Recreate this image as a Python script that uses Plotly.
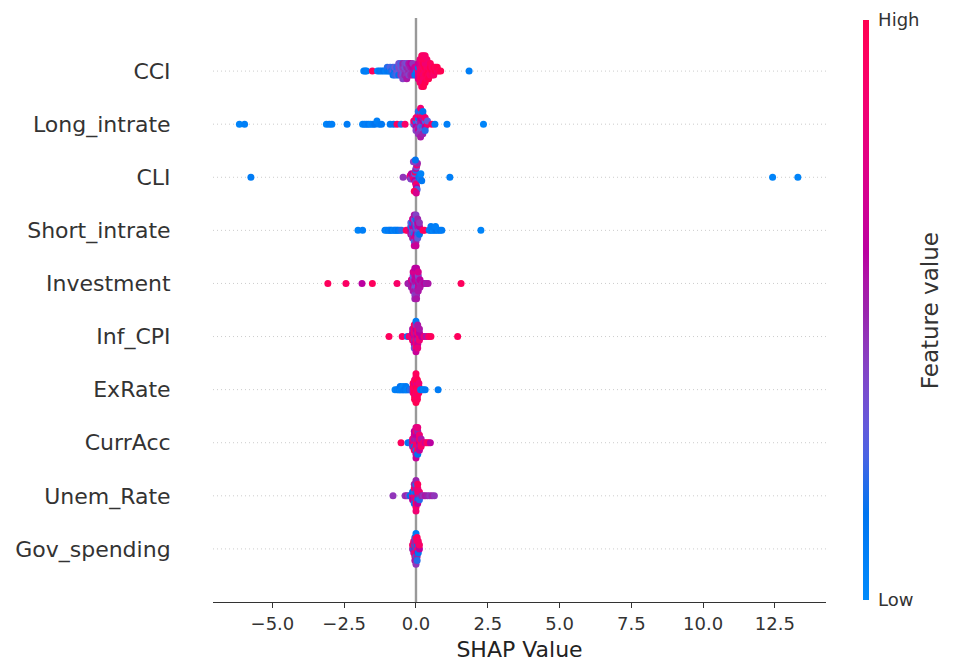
import numpy as np
import plotly.graph_objects as go

# ---------------- data ----------------
features = ["CCI", "Long_intrate", "CLI", "Short_intrate", "Investment",
            "Inf_CPI", "ExRate", "CurrAcc", "Unem_Rate", "Gov_spending"]
x_ticks = [-5.0, -2.5, 0.0, 2.5, 5.0, 7.5, 10.0, 12.5]
x_range = [-7.07, 14.28]
cbar_ticks = ["Low", "High"]

cci_shap = [
    -1.82, -1.77, -1.72, -1.52, -1.34, -1.27, -1.20, -1.13, -1.06, -1.00,
    -1.00, -0.94, -0.90, -0.90, -0.86, -0.80, -0.80, -0.80,
    -0.74, -0.74, -0.74, -0.67, -0.67, -0.67, -0.60, -0.60, -0.60, -0.60,
    -0.53, -0.53, -0.53, -0.53, -0.46, -0.46, -0.46, -0.46, -0.46,
    -0.39, -0.39, -0.39, -0.39, -0.32, -0.32, -0.32, -0.32, -0.32,
    -0.25, -0.25, -0.25, -0.25, -0.18, -0.18, -0.18, -0.18,
    -0.11, -0.11, -0.11, -0.11, -0.04, -0.04, -0.04,
    0.02, 0.02, 0.02, 0.08, 0.08, 0.08, 0.08, 0.08,
    0.14, 0.14, 0.14, 0.14, 0.14, 0.14, 0.14,
    0.20, 0.20, 0.20, 0.20, 0.20, 0.20, 0.20, 0.20, 0.20,
    0.26, 0.26, 0.26, 0.26, 0.26, 0.26, 0.26, 0.26, 0.26,
    0.32, 0.32, 0.32, 0.32, 0.32, 0.32, 0.32, 0.32,
    0.38, 0.38, 0.38, 0.38, 0.38, 0.38,
    0.44, 0.44, 0.44, 0.44, 0.44,
    0.50, 0.50, 0.50, 0.50,
    0.56, 0.56, 0.56,
    0.62, 0.62, 0.62,
    0.68, 0.68, 0.74, 0.74, 0.80, 0.86, 1.85]
cci_val = [
    0.05, 0.10, 0.08, 0.95, 0.05, 0.12, 0.10, 0.15, 0.08, 0.12,
    0.20, 0.15, 0.10, 0.25, 0.18, 0.30, 0.22, 0.15,
    0.15, 0.30, 0.20, 0.35, 0.20, 0.25, 0.30, 0.40, 0.15, 0.35,
    0.40, 0.30, 0.45, 0.25, 0.35, 0.45, 0.30, 0.50, 0.40,
    0.45, 0.35, 0.50, 0.40, 0.40, 0.50, 0.45, 0.35, 0.55,
    0.50, 0.45, 0.40, 0.55, 0.45, 0.55, 0.50, 0.60,
    0.50, 0.60, 0.55, 0.45, 0.55, 0.65, 0.15,
    0.10, 0.70, 0.15, 0.80, 0.15, 0.75, 0.65, 0.70,
    0.85, 0.80, 0.90, 0.70, 0.95, 0.80, 0.90,
    0.90, 0.85, 0.95, 0.80, 1.00, 0.90, 0.85, 0.95, 0.90,
    0.95, 0.90, 0.85, 1.00, 0.90, 0.95, 0.85, 0.90, 1.00,
    0.90, 1.00, 0.95, 0.85, 0.90, 0.95, 1.00, 0.90,
    0.95, 0.90, 1.00, 0.85, 0.95, 0.90,
    1.00, 0.90, 0.95, 0.85, 1.00,
    0.95, 1.00, 0.90, 0.95,
    1.00, 0.90, 0.95,
    0.95, 1.00, 0.90,
    1.00, 0.95, 0.90, 1.00, 0.95, 1.00, 0.08]

long_shap = [
    -6.15, -5.97, -3.12, -3.02, -2.93, -2.40, -1.86, -1.79, -1.72, -1.65,
    -1.58, -1.50, -1.43, -1.36, -1.28, -1.20, -0.90, -0.78, -0.66, -0.52, -0.38,
    -0.08, -0.08, 0.00, 0.00, 0.00, 0.00, 0.00,
    0.08, 0.08, 0.08, 0.08, 0.08, 0.08, 0.08, 0.08,
    0.16, 0.16, 0.16, 0.16, 0.16, 0.16, 0.16, 0.16, 0.16, 0.16,
    0.24, 0.24, 0.24, 0.24, 0.24, 0.24, 0.24, 0.24,
    0.32, 0.32, 0.32, 0.32, 0.32, 0.40, 0.40,
    0.55, 0.66, 1.08, 2.35]
long_val = [
    0.05, 0.08, 0.05, 0.10, 0.08, 0.10, 0.05, 0.10, 0.08, 0.12,
    0.05, 0.10, 0.15, 0.08, 0.10, 0.12, 0.12, 0.15, 0.95, 0.20, 0.90,
    0.30, 0.85, 0.55, 0.20, 0.60, 0.90, 0.40,
    0.60, 0.30, 0.50, 0.15, 0.65, 0.85, 0.45, 0.20,
    0.50, 0.55, 0.25, 0.60, 0.35, 0.90, 0.45, 0.20, 0.55, 0.85,
    0.40, 0.60, 0.20, 0.55, 0.30, 0.90, 0.50, 0.15,
    0.55, 0.25, 0.60, 0.85, 0.20, 0.90, 0.30,
    0.92, 0.10, 0.08, 0.05]

cli_shap = [
    -5.75, -0.45, -0.22, -0.20, -0.18, -0.16,
    -0.10, -0.08, -0.07, -0.05, -0.04, -0.03, -0.02, -0.01, 0.00, 0.00,
    0.01, 0.02, 0.02, 0.03, 0.04, 0.05, -0.06, -0.09, 0.01, -0.02,
    0.10, 0.13, 0.15, 0.17, 0.20, 1.18, 12.42, 13.30]
cli_val = [
    0.10, 0.45, 0.50, 0.85, 0.40, 0.60,
    0.90, 0.50, 0.85, 0.30, 0.60, 0.95, 0.45, 0.20, 0.80, 0.55,
    0.90, 0.35, 0.60, 0.85, 0.25, 0.50, 0.95, 0.40, 0.70, 0.15,
    0.15, 0.10, 0.20, 0.05, 0.12, 0.08, 0.05, 0.05]

short_shap = [
    -2.02, -1.86, -1.08, -1.02, -0.96, -0.92, -0.88, -0.84, -0.78, -0.74,
    -0.70, -0.66, -0.62, -0.56, -0.50, -0.34, -0.28,
    -0.18, -0.18, -0.18, -0.18, -0.12, -0.12, -0.12, -0.12, -0.12, -0.12,
    -0.06, -0.06, -0.06, -0.06, -0.06, -0.06, -0.06, -0.06, -0.06,
    0.00, 0.00, 0.00, 0.00, 0.00, 0.00, 0.00, 0.00, 0.00,
    0.06, 0.06, 0.06, 0.06, 0.06, 0.06, 0.12, 0.12, 0.12, 0.12,
    0.24, 0.30, 0.46, 0.50, 0.56, 0.60, 0.66, 0.72, 0.78, 0.84, 0.90, 2.26,
    0.52, 0.68]
short_val = [
    0.05, 0.08, 0.10, 0.05, 0.12, 0.08, 0.10, 0.15, 0.05, 0.10,
    0.12, 0.08, 0.15, 0.10, 0.20, 0.95, 0.90,
    0.60, 0.20, 0.55, 0.30, 0.25, 0.65, 0.40, 0.15, 0.50, 0.70,
    0.30, 0.60, 0.20, 0.50, 0.70, 0.35, 0.25, 0.55, 0.65,
    0.45, 0.20, 0.60, 0.30, 0.70, 0.15, 0.50, 0.40, 0.65,
    0.35, 0.55, 0.20, 0.60, 0.30, 0.50, 0.25, 0.60, 0.15, 0.45,
    0.92, 0.95, 0.10, 0.08, 0.12, 0.05, 0.10, 0.15, 0.08, 0.12, 0.10, 0.05,
    0.10, 0.08]

inv_shap = [
    -3.07, -2.44, -1.88, -1.52, -0.66, -0.28, -0.24,
    -0.16, -0.16, -0.16, -0.10, -0.10, -0.10, -0.10, -0.10, -0.10,
    -0.04, -0.04, -0.04, -0.04, -0.04, -0.04, -0.04, -0.04, -0.04,
    0.02, 0.02, 0.02, 0.02, 0.02, 0.02, 0.02, 0.02, 0.02,
    0.08, 0.08, 0.08, 0.08, 0.08, 0.08, 0.14, 0.14, 0.14,
    0.22, 0.30, 0.36, 0.42, 1.57]
inv_val = [
    0.95, 0.92, 0.60, 0.95, 0.90, 0.55, 0.50,
    0.55, 0.70, 0.50, 0.60, 0.45, 0.65, 0.30, 0.55, 0.70,
    0.50, 0.60, 0.35, 0.65, 0.55, 0.70, 0.40, 0.60, 0.50,
    0.55, 0.65, 0.30, 0.60, 0.50, 0.70, 0.45, 0.60, 0.55,
    0.60, 0.50, 0.65, 0.40, 0.55, 0.70, 0.50, 0.60, 0.55,
    0.55, 0.60, 0.50, 0.55, 0.95]

inf_shap = [
    -0.94, -0.48, -0.30, -0.24,
    -0.12, -0.12, -0.12, -0.12, -0.06, -0.06, -0.06, -0.06, -0.06, -0.06, -0.06,
    0.00, 0.00, 0.00, 0.00, 0.00, 0.00, 0.00, 0.00, 0.00,
    0.06, 0.06, 0.06, 0.06, 0.06, 0.06, 0.06, 0.12, 0.12, 0.12, 0.12,
    0.20, 0.28, 0.36, 0.44, 0.52, 1.45]
inf_val = [
    0.95, 0.92, 0.10, 0.85,
    0.80, 0.60, 0.90, 0.55, 0.65, 0.90, 0.50, 0.85, 0.60, 0.95, 0.30,
    0.70, 0.55, 0.90, 0.60, 0.85, 0.45, 0.95, 0.10, 0.65,
    0.60, 0.85, 0.50, 0.90, 0.65, 0.55, 0.80, 0.90, 0.60, 0.85, 0.55,
    0.60, 0.80, 0.55, 0.90, 0.95, 0.95]

ex_shap = [
    -0.73, -0.66, -0.62, -0.58, -0.55, -0.55, -0.52, -0.48, -0.45, -0.45,
    -0.42, -0.38, -0.35, -0.35, -0.32, -0.28, -0.24, -0.20,
    -0.10, -0.10, -0.10, -0.10, -0.05, -0.05, -0.05, -0.05, -0.05, -0.05, -0.05,
    0.00, 0.00, 0.00, 0.00, 0.00, 0.00, 0.00, 0.00, 0.00, 0.00,
    0.05, 0.05, 0.05, 0.05, 0.05, 0.05, 0.05, 0.10, 0.10, 0.10, 0.10,
    0.16, 0.20, 0.26, 0.32, 0.77]
ex_val = [
    0.05, 0.10, 0.08, 0.12, 0.05, 0.15, 0.10, 0.08, 0.12, 0.05,
    0.10, 0.15, 0.08, 0.12, 0.10, 0.05, 0.15, 0.20,
    0.90, 0.95, 0.85, 1.00, 0.95, 0.90, 1.00, 0.70, 0.95, 0.90, 1.00,
    0.95, 1.00, 0.90, 0.95, 0.85, 1.00, 0.95, 0.90, 1.00, 0.95,
    0.90, 1.00, 0.95, 0.75, 0.90, 1.00, 0.95, 0.90, 1.00, 0.95, 0.85,
    0.10, 0.15, 0.08, 0.12, 0.10]

ca_shap = [
    -0.52, -0.28, -0.22, -0.18,
    -0.12, -0.12, -0.12, -0.06, -0.06, -0.06, -0.06, -0.06, -0.06,
    0.00, 0.00, 0.00, 0.00, 0.00, 0.00, 0.00, 0.00, 0.00,
    0.06, 0.06, 0.06, 0.06, 0.06, 0.06, 0.06, 0.06,
    0.12, 0.12, 0.12, 0.12, 0.12, 0.18, 0.18, 0.18,
    0.26, 0.32, 0.38, 0.44, 0.50]
ca_val = [
    0.95, 0.10, 0.15, 0.20,
    0.60, 0.85, 0.50, 0.90, 0.55, 0.15, 0.70, 0.95, 0.60,
    0.85, 0.50, 0.95, 0.60, 0.20, 0.90, 0.55, 0.75, 0.65,
    0.90, 0.55, 0.85, 0.60, 0.95, 0.50, 0.15, 0.80,
    0.60, 0.90, 0.55, 0.85, 0.65, 0.95, 0.55, 0.90,
    0.85, 0.70, 0.90, 0.95, 0.60]

un_shap = [
    -0.80, -0.38, -0.32, -0.26, -0.20,
    -0.12, -0.12, -0.12, -0.06, -0.06, -0.06, -0.06, -0.06, -0.06,
    0.00, 0.00, 0.00, 0.00, 0.00, 0.00, 0.00, 0.00, 0.00,
    0.06, 0.06, 0.06, 0.06, 0.06, 0.06, 0.12, 0.12, 0.12,
    0.20, 0.26, 0.32, 0.40, 0.48, 0.56, 0.64]
un_val = [
    0.45, 0.45, 0.50, 0.40, 0.15,
    0.85, 0.15, 0.60, 0.90, 0.20, 0.55, 0.95, 0.10, 0.50,
    0.90, 0.15, 0.85, 0.55, 0.95, 0.20, 0.90, 0.50, 0.85,
    0.55, 0.90, 0.15, 0.85, 0.60, 0.95, 0.50, 0.85, 0.20,
    0.50, 0.45, 0.55, 0.50, 0.45, 0.50, 0.45]

gov_shap = [
    -0.12, -0.12, -0.08, -0.08, -0.08, -0.08,
    -0.04, -0.04, -0.04, -0.04, -0.04, -0.04, -0.04,
    0.00, 0.00, 0.00, 0.00, 0.00, 0.00, 0.00, 0.00, 0.00,
    0.04, 0.04, 0.04, 0.04, 0.04, 0.04, 0.04,
    0.08, 0.08, 0.08, 0.08, 0.12, 0.12]
gov_val = [
    0.50, 0.90, 0.15, 0.85, 0.55, 0.90,
    0.60, 0.15, 0.85, 0.50, 0.90, 0.20, 0.55,
    0.15, 0.85, 0.90, 0.50, 0.20, 0.95, 0.55, 0.10, 0.45,
    0.90, 0.15, 0.60, 0.85, 0.50, 0.95, 0.20,
    0.85, 0.55, 0.15, 0.90, 0.60, 0.90]

shap_lists = [cci_shap, long_shap, cli_shap, short_shap, inv_shap,
              inf_shap, ex_shap, ca_shap, un_shap, gov_shap]
val_lists = [cci_val, long_val, cli_val, short_val, inv_val,
             inf_val, ex_val, ca_val, un_val, gov_val]


# ---------------- helpers ----------------
def lch2rgb(l, c, h):
    a, b = c * np.cos(h), c * np.sin(h)
    fy = (l + 16) / 116.0
    fx, fz = fy + a / 500.0, fy - b / 200.0

    def finv(t):
        return t ** 3 if t ** 3 > 0.008856 else (t - 16 / 116.0) / 7.787

    X, Y, Z = 0.95047 * finv(fx), finv(fy), 1.08883 * finv(fz)
    lin = [3.2406 * X - 1.5372 * Y - 0.4986 * Z,
           -0.9689 * X + 1.8758 * Y + 0.0415 * Z,
           0.0557 * X - 0.2040 * Y + 1.0570 * Z]
    out = []
    for v in lin:
        v = 1.055 * v ** (1 / 2.4) - 0.055 if v > 0.0031308 else 12.92 * v
        out.append(int(round(255 * min(max(v, 0.0), 1.0))))
    return "rgb(%d,%d,%d)" % tuple(out)


def red_blue_scale(n=21):
    blue_lch = [54.0, 70.0, 4.6588]
    red_lch = [54.0, 90.0, 0.35470565 + 2 * np.pi]
    l_mid = 40.0
    scale = []
    for p in np.linspace(0, 1, n):
        l = blue_lch[0] + (l_mid - blue_lch[0]) * (p / 0.5) if p <= 0.5 else \
            l_mid + (red_lch[0] - l_mid) * ((p - 0.5) / 0.5)
        c = blue_lch[1] + (red_lch[1] - blue_lch[1]) * p
        h = blue_lch[2] + (red_lch[2] - blue_lch[2]) * p
        scale.append([float(p), lch2rgb(l, c, h)])
    return scale


def swarm(vals, nbins=100, row_height=0.4):
    v = np.asarray(vals, dtype=float)
    quant = np.round(nbins * (v - v.min()) / (v.max() - v.min() + 1e-8))
    inds = np.argsort(quant, kind="stable")
    layer, last = 0, None
    ys = np.zeros(len(v))
    for ind in inds:
        if quant[ind] != last:
            layer = 0
        ys[ind] = np.ceil(layer / 2) * ((layer % 2) * 2 - 1)
        layer += 1
        last = quant[ind]
    ys *= 0.9 * (row_height / np.max(ys + 1))
    return ys


# ---------------- figure ----------------
fig = go.Figure()
nf = len(features)
for i, (sv, fv) in enumerate(zip(shap_lists, val_lists)):
    n = min(len(sv), len(fv))
    sv, fv = sv[:n], fv[:n]
    pos = nf - 1 - i
    fig.add_shape(type="line", xref="paper", x0=0, x1=1, yref="y", y0=pos, y1=pos,
                  line=dict(color="#cccccc", width=1, dash="1px,3px"), layer="below")
    ys = swarm(sv)
    fig.add_trace(go.Scatter(
        x=sv, y=pos + ys, mode="markers",
        marker=dict(size=7, color=fv, coloraxis="coloraxis", line=dict(width=0)),
        showlegend=False, hoverinfo="skip"))

fig.add_shape(type="line", xref="x", x0=0, x1=0, yref="paper", y0=0, y1=1,
              line=dict(color="#999999", width=2.4), layer="below")

fig.update_layout(
    width=950, height=660,
    margin=dict(l=205, r=132, t=10, b=66, autoexpand=False),
    plot_bgcolor="white", paper_bgcolor="white",
    font=dict(family="DejaVu Sans", color="#333333"),
    coloraxis=dict(
        colorscale=red_blue_scale(), cmin=0, cmax=1,
        colorbar=dict(thickness=6, len=580, lenmode="pixels",
                      x=1.0604, xanchor="left", y=0.5, yanchor="middle",
                      ypad=0, xpad=0, outlinewidth=0,
                      tickvals=[0, 1], ticktext=cbar_ticks,
                      ticks="outside", ticklen=6, tickcolor="rgba(0,0,0,0)",
                      ticklabeloverflow="allow",
                      tickfont=dict(size=18, color="#333333"))),
    xaxis=dict(range=x_range, tickvals=x_ticks, tickformat=".1f",
               ticks="outside", ticklen=5, tickwidth=1.2, tickcolor="#333333",
               showline=True, linecolor="#333333", linewidth=1.2,
               showgrid=False, zeroline=False, automargin=False,
               tickfont=dict(size=18, color="#333333"),
               title=dict(text="SHAP Value", font=dict(size=22, color="#222222"), standoff=8)),
    yaxis=dict(range=[-1, nf], tickvals=list(range(nf)), ticktext=features[::-1],
               showline=False, showgrid=False, zeroline=False, automargin=False,
               ticks="outside", ticklen=37, tickcolor="rgba(0,0,0,0)",
               tickfont=dict(size=22, color="#333333")),
    annotations=[dict(text="Feature value", textangle=-90, xref="paper", yref="paper",
                      x=1.1697, y=0.498, xanchor="center", yanchor="middle",
                      showarrow=False, font=dict(size=23, color="#333333"))],
)

fig.write_html("out.html")
